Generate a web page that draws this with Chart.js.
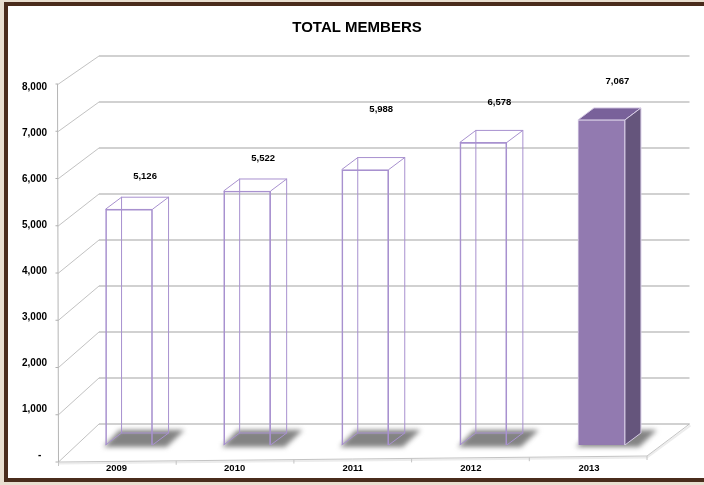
<!DOCTYPE html>
<html><head><meta charset="utf-8">
<script src="https://cdn.jsdelivr.net/npm/chart.js@4/dist/chart.umd.min.js"></script>
<style>html,body{margin:0;padding:0;background:#e9dfd0;overflow:hidden}#wrap{width:704px;height:485px;position:relative}canvas{display:block}</style>
</head><body><div id="wrap"><canvas id="c" width="704" height="485"></canvas></div>
<script>
// ---- data ----
const categories = ['2009', '2010', '2011', '2012', '2013'];
const members = [5126, 5522, 5988, 6578, 7067];
const yTicks = [0, 1000, 2000, 3000, 4000, 5000, 6000, 7000, 8000];
const yTickLabels = ['-  ', '1,000', '2,000', '3,000', '4,000', '5,000', '6,000', '7,000', '8,000'];
const valueLabels = ['5,126', '5,522', '5,988', '6,578', '7,067'];
const chartTitle = 'TOTAL MEMBERS';

// ---- styling / projection ----
const FONT = "'Liberation Sans', Arial, sans-serif";
const BOX = { dx: 16, dy: -12 };       // depth of each bar box
const WALL = { dx: 29, dy: -21 };      // back wall offset from bar plane
const FRONT_BOTTOM = 462, FRONT_K = 378 / 368, FRONT_LEFT = 58.5, FRONT_RIGHT = 647, FRONT_TILT = -6;
const LINE = '#a891cf';
const labelLift = [33, 33, 60, 40, 39];
const filled = [false, false, false, false, true];

const threeD = {
  id: 'threeD',
  beforeDraw(chart) {
    const ctx = chart.ctx;
    ctx.save();
    ctx.fillStyle = '#e9dfd0';
    ctx.fillRect(0, 0, 704, 485);
    ctx.fillStyle = '#4a2c1c';
    ctx.fillRect(4, 2, 700, 4);
    ctx.fillRect(4, 2, 4, 480);
    ctx.fillRect(4, 478, 700, 4);
    ctx.fillStyle = '#ffffff';
    ctx.fillRect(8, 6, 696, 472);
    ctx.restore();
  },
  beforeDatasetsDraw(chart) {
    const { ctx, chartArea: a, scales: { x, y } } = chart;
    const y0 = y.getPixelForValue(0);
    const fx = X => FRONT_LEFT + (X - a.left) * (FRONT_RIGHT - FRONT_LEFT) / (a.right - a.left);
    const fy = Y => FRONT_BOTTOM + (Y - y0) * FRONT_K;
    ctx.save();
    // floor
    const FL = [fx(a.left), fy(y0)], FR = [fx(a.right), fy(y0) + FRONT_TILT];
    const BR = [a.right + WALL.dx, y0 + WALL.dy], BL = [a.left + WALL.dx, y0 + WALL.dy];
    ctx.beginPath();
    ctx.moveTo(FL[0], FL[1] + 1.5); ctx.lineTo(FR[0], FR[1] + 1.5); ctx.lineTo(BR[0] + 1, BR[1] + 1.5);
    ctx.strokeStyle = '#ececec'; ctx.lineWidth = 2; ctx.stroke();
    ctx.beginPath();
    ctx.moveTo(FL[0], FL[1]); ctx.lineTo(FR[0], FR[1]); ctx.lineTo(BR[0], BR[1]);
    ctx.strokeStyle = '#c4c4c4'; ctx.lineWidth = 1; ctx.stroke();
    // back wall gridlines + side diagonals
    yTicks.forEach(v => {
      const yb = y.getPixelForValue(v);
      ctx.beginPath();
      ctx.moveTo(a.left + WALL.dx, yb + WALL.dy);
      ctx.lineTo(a.right + WALL.dx, yb + WALL.dy);
      ctx.strokeStyle = '#a3a3a3'; ctx.lineWidth = 1.1; ctx.stroke();
      ctx.beginPath();
      ctx.moveTo(fx(a.left), fy(yb));
      ctx.lineTo(a.left + WALL.dx, yb + WALL.dy);
      ctx.strokeStyle = '#c2c2c2'; ctx.lineWidth = 1; ctx.stroke();
      ctx.beginPath();
      ctx.moveTo(fx(a.left) - 3, fy(yb)); ctx.lineTo(fx(a.left), fy(yb));
      ctx.strokeStyle = '#b0b0b0'; ctx.stroke();
    });
    // front axis
    ctx.beginPath();
    ctx.moveTo(fx(a.left) - 1, fy(y.getPixelForValue(8000)));
    ctx.lineTo(fx(a.left), fy(y0));
    ctx.strokeStyle = '#b5b5b5'; ctx.lineWidth = 1; ctx.stroke();
    // category ticks on front edge
    for (let k = 0; k <= categories.length; k++) {
      const f = k / categories.length;
      const X = fx(a.left + f * (a.right - a.left));
      const Y = FL[1] + f * FRONT_TILT;
      ctx.beginPath(); ctx.moveTo(X, Y); ctx.lineTo(X, Y + 4);
      ctx.strokeStyle = '#c4c4c4'; ctx.stroke();
    }
    // shadows + back wireframe
    const meta = chart.getDatasetMeta(0);
    meta.data.forEach((el, i) => {
      const xl = el.x - el.width / 2, xr = el.x + el.width / 2, b = el.base, t = el.y;
      ctx.save();
      ctx.filter = 'blur(2.5px)';
      ctx.fillStyle = 'rgba(118,118,118,0.9)';
      ctx.beginPath();
      ctx.moveTo(xl - 2, b + 2); ctx.lineTo(xr + 14, b + 2);
      ctx.lineTo(xr + BOX.dx + 16, b + BOX.dy - 3); ctx.lineTo(xl + BOX.dx - 2, b + BOX.dy - 3);
      ctx.closePath(); ctx.fill();
      ctx.restore();
      if (!filled[i]) {
        ctx.strokeStyle = LINE; ctx.lineWidth = 1;
        ctx.strokeRect(xl + BOX.dx, t + BOX.dy, xr - xl, b - t);
        ctx.beginPath();
        [[xl, t], [xr, t], [xl, b], [xr, b]].forEach(([px, py]) => {
          ctx.moveTo(px, py); ctx.lineTo(px + BOX.dx, py + BOX.dy);
        });
        ctx.stroke();
      }
    });
    ctx.restore();
  },
  afterDatasetsDraw(chart) {
    const ctx = chart.ctx;
    const meta = chart.getDatasetMeta(0);
    ctx.save();
    meta.data.forEach((el, i) => {
      const xl = el.x - el.width / 2, xr = el.x + el.width / 2, b = el.base, t = el.y;
      if (filled[i]) {
        ctx.fillStyle = '#79619a';
        ctx.beginPath();
        ctx.moveTo(xl, t); ctx.lineTo(xr, t); ctx.lineTo(xr + BOX.dx, t + BOX.dy); ctx.lineTo(xl + BOX.dx, t + BOX.dy);
        ctx.closePath(); ctx.fill();
        ctx.strokeStyle = '#d6cbe5'; ctx.lineWidth = 1; ctx.stroke();
        ctx.fillStyle = '#65557c';
        ctx.beginPath();
        ctx.moveTo(xr, t); ctx.lineTo(xr + BOX.dx, t + BOX.dy); ctx.lineTo(xr + BOX.dx, b + BOX.dy); ctx.lineTo(xr, b);
        ctx.closePath(); ctx.fill(); ctx.stroke();
      }
      ctx.fillStyle = '#000';
      ctx.font = 'bold 9.5px ' + FONT;
      ctx.textAlign = 'center'; ctx.textBaseline = 'middle';
      ctx.fillText(valueLabels[i], el.x + BOX.dx, t - labelLift[i]);
    });
    ctx.restore();
  }
};

new Chart(document.getElementById('c'), {
  type: 'bar',
  data: {
    labels: categories,
    datasets: [{
      data: members,
      backgroundColor: filled.map(f => f ? '#927ab0' : 'rgba(0,0,0,0)'),
      borderColor: filled.map(f => f ? '#d6cbe5' : LINE),
      borderWidth: 1,
      barThickness: 47
    }]
  },
  options: {
    responsive: false,
    devicePixelRatio: 1,
    animation: false,
    layout: { padding: { left: 10, right: 0, top: 0, bottom: 0 } },
    plugins: {
      legend: { display: false },
      tooltip: { enabled: false },
      title: {
        display: true, text: chartTitle, color: '#000',
        font: { family: FONT, size: 15, weight: 'bold' },
        padding: { top: 19, bottom: 40 }
      }
    },
    scales: {
      x: {
        grid: { display: false, drawTicks: false }, border: { display: false },
        ticks: { color: '#000', font: { family: FONT, size: 9.5, weight: 'bold' }, padding: 18, labelOffset: -12.5 },
        afterFit(s) { s.height = 40; }
      },
      y: {
        min: 0, max: 8000,
        grid: { display: false, drawTicks: false }, border: { display: false },
        ticks: {
          stepSize: 1000, color: '#000', padding: 23, labelOffset: 10,
          font: { family: FONT, size: 10, weight: 'bold' },
          callback: v => yTickLabels[yTicks.indexOf(v)]
        },
        afterFit(s) { s.width = 60; }
      },
      y2: {
        position: 'right', display: true,
        grid: { display: false }, border: { display: false }, ticks: { display: false },
        afterFit(s) { s.width = 43.5; }
      }
    }
  },
  plugins: [threeD]
});
</script>
</body></html>
